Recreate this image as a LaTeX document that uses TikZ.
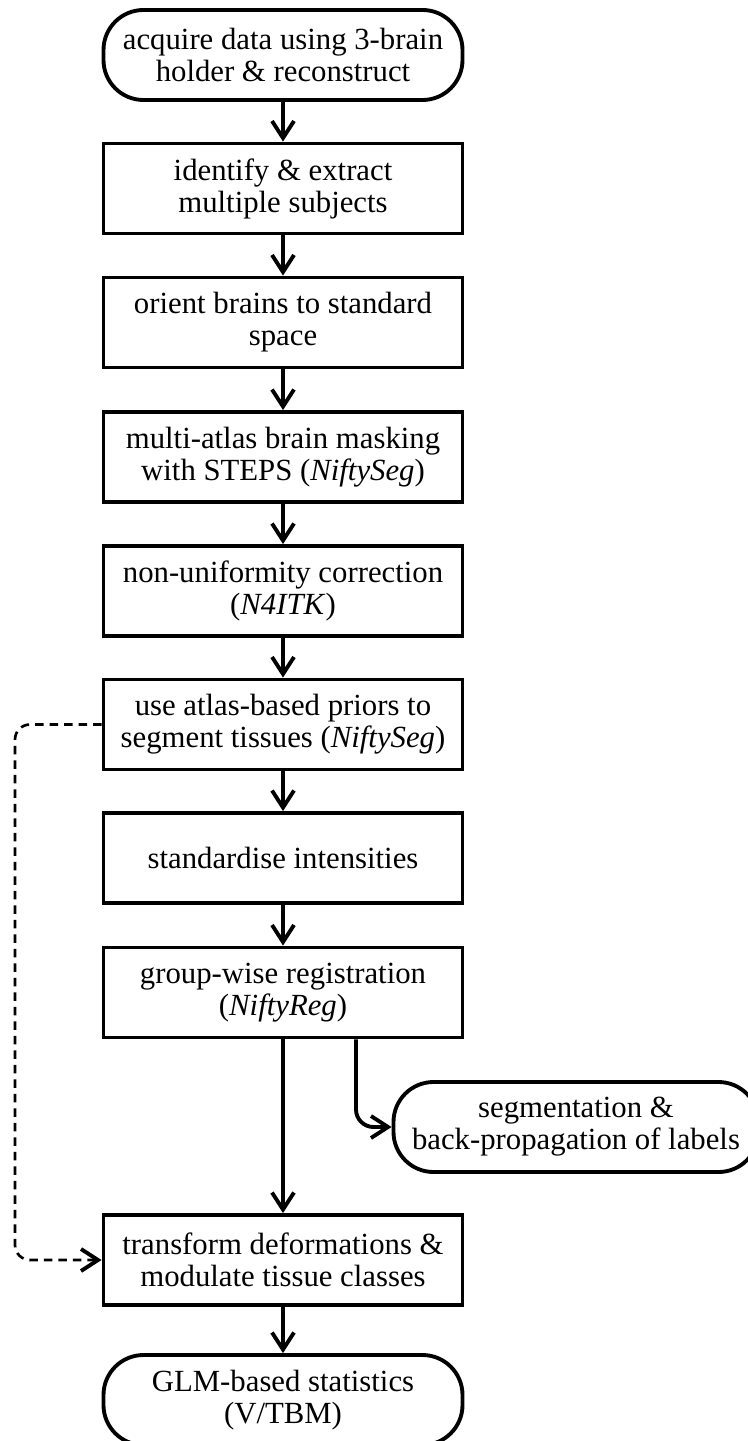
\documentclass[tikz,border=0pt]{standalone}
\usepackage{fontspec}
\setmainfont{Liberation Serif}
\usepackage{tikz}
\usetikzlibrary{arrows.meta}

\tikzset{
    stepbox/.style={draw, line width=2.2pt, minimum width=7.18cm, minimum height=1.8cm,
        inner sep=0pt, align=center, font=\fontsize{17.5}{18.2}\selectfont},
    terminal/.style={stepbox, rounded corners=0.8cm},
    flow/.style={line width=2.2pt, -{Straight Barb[length=3.4mm,width=4.4mm]}},
    feedback/.style={line width=1.5pt, dash pattern=on 0.17cm off 0.12cm,
        rounded corners=0.3cm, -{Straight Barb[length=3.4mm,width=4.4mm,line width=2.2pt]}}
}

\begin{document}
\begin{tikzpicture}
    % Define dimensions
    \def\midx{5.66}     % x of the main column (cm)

    \useasboundingbox (0,0) rectangle (14.94,-28.82);

    % Main column
    \node[terminal] (acq) at (\midx, -1.1) {acquire data using 3-brain\\holder \& reconstruct};
    \node[stepbox] (ident) at (\midx, -3.77) {identify \& extract\\multiple subjects};
    \node[stepbox] (orient) at (\midx, -6.45) {orient brains to standard\\space};
    \node[stepbox] (mask) at (\midx, -9.14) {multi-atlas brain masking\\with STEPS (\textit{NiftySeg})};
    \node[stepbox] (nonuni) at (\midx, -11.82) {non-uniformity correction\\(\textit{N4ITK})};
    \node[stepbox] (tissue) at (\midx, -14.49) {use atlas-based priors to\\segment tissues (\textit{NiftySeg})};
    \node[stepbox] (stand) at (\midx, -17.16) {standardise intensities};
    \node[stepbox] (reg) at (\midx, -19.85) {group-wise registration\\(\textit{NiftyReg})};
    \node[stepbox] (trans) at (\midx, -25.2) {transform deformations \&\\modulate tissue classes};
    \node[terminal] (glm) at (\midx, -28.0) {GLM-based statistics\\(V/TBM)};

    % Side branch
    \node[terminal, minimum width=7.3cm] (seg) at (11.52, -22.54) {segmentation \&\\back-propagation of labels};

    % Arrows
    \foreach \a/\b in {acq/ident, ident/orient, orient/mask, mask/nonuni, nonuni/tissue,
        tissue/stand, stand/reg, reg/trans, trans/glm} {
        \draw[flow] (\a) -- (\b);
    }
    \draw[flow, rounded corners=0.35cm] ([xshift=1.46cm]reg.south) |- (seg.west);

    % Dashed feedback
    \coordinate (loopx) at (0.3, 0);
    \draw[feedback] (tissue.west) -- (tissue.west -| loopx) |- (trans.west);
\end{tikzpicture}
\end{document}
